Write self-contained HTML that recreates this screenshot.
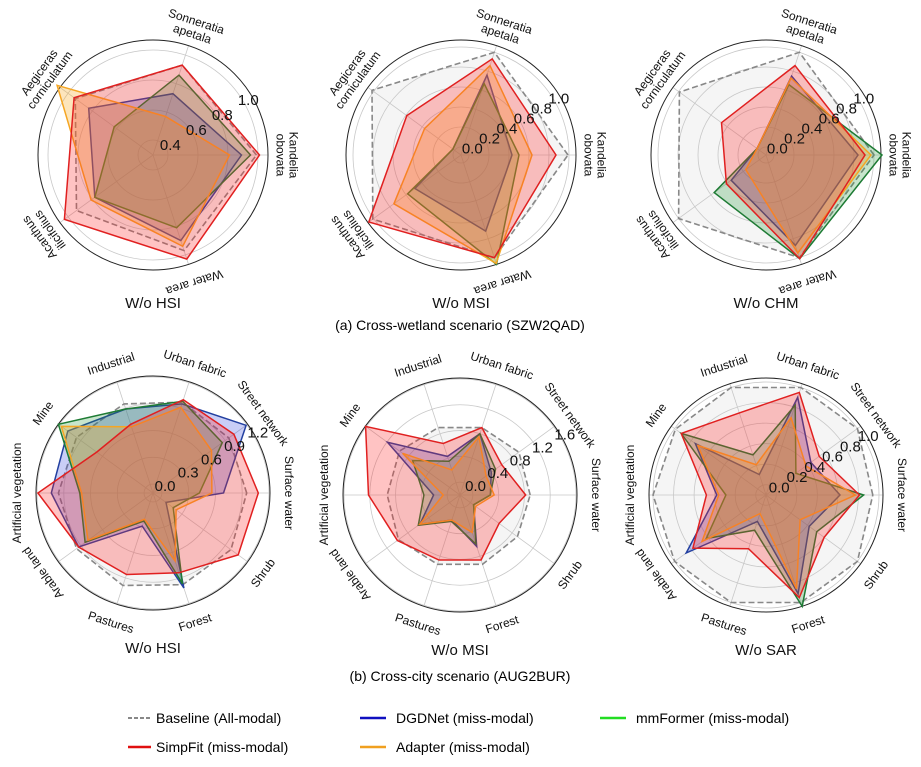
<!DOCTYPE html>
<html><head><meta charset="utf-8">
<style>
html,body{margin:0;padding:0;background:#fff;}
svg{display:block;font-family:"Liberation Sans",Arial,sans-serif;}
</style></head>
<body>
<svg id="fig" width="921" height="767" viewBox="0 0 921 767" xmlns="http://www.w3.org/2000/svg">
<g id="charts"></g>
<text x="460" y="330" font-size="14" text-anchor="middle">(a) Cross-wetland scenario (SZW2QAD)</text>
<text x="460" y="681" font-size="14" text-anchor="middle">(b) Cross-city scenario (AUG2BUR)</text>
<g font-size="14">
 <g><line x1="128" y1="718" x2="151" y2="718" stroke="#888" stroke-width="2" stroke-dasharray="4,2"/><text x="156" y="723">Baseline (All-modal)</text></g>
 <g><line x1="360" y1="718" x2="386" y2="718" stroke="#1010c0" stroke-width="2.5"/><text x="396" y="723">DGDNet (miss-modal)</text></g>
 <g><line x1="600" y1="718" x2="626" y2="718" stroke="#22dd22" stroke-width="2.5"/><text x="636" y="723">mmFormer (miss-modal)</text></g>
 <g><line x1="128" y1="747" x2="151" y2="747" stroke="#e01010" stroke-width="2.5"/><text x="156" y="752">SimpFit (miss-modal)</text></g>
 <g><line x1="360" y1="747" x2="386" y2="747" stroke="#f0a020" stroke-width="2.5"/><text x="396" y="752">Adapter (miss-modal)</text></g>
</g>
</svg>
<script>
// ---- categories ----
const wetCats = ["Kandelia\nobovata","Sonneratia\napetala","Aegiceras\ncorniculatum","Acanthus\nilicifolius","Water area"];
const cityCats = ["Surface water","Street network","Urban fabric","Industrial","Mine","Artificial vegetation","Arable land","Pastures","Forest","Shrub"];
// ---- tick labels ----
const ticks1 = [0.4,0.6,0.8,1.0];
const ticks2 = [0.0,0.2,0.4,0.6,0.8,1.0];
const ticks4 = [0.0,0.3,0.6,0.9,1.2];
const ticks5 = [0.0,0.4,0.8,1.2,1.6];
const ticks6 = [0.0,0.2,0.4,0.6,0.8,1.0];
// ---- chart 1: W/o HSI (wetland) ----
const c1Baseline = [0.99,0.93,0.94,0.93,0.97];
const c1DGDNet   = [0.89,0.73,0.83,0.78,0.90];
const c1mmFormer = [0.95,0.86,0.62,0.78,0.81];
const c1Adapter  = [0.81,0.57,1.09,0.81,0.94];
const c1SimpFit  = [1.01,0.93,0.95,1.03,1.03];
// ---- chart 2: W/o MSI (wetland) ----
const c2Baseline = [0.99,1.00,1.02,1.01,1.00];
const c2DGDNet   = [0.43,0.76,0.02,0.49,0.72];
const c2mmFormer = [0.50,0.67,0.02,0.58,1.07];
const c2Adapter  = [0.63,0.86,0.37,0.75,1.06];
const c2SimpFit  = [0.87,0.93,0.59,1.06,1.00];
// ---- chart 3: W/o CHM (wetland) ----
const c3Baseline = [1.00,1.00,0.99,1.00,1.00];
const c3DGDNet   = [0.84,0.75,0.03,0.35,0.87];
const c3mmFormer = [1.08,0.66,0.03,0.56,1.01];
const c3Adapter  = [0.97,0.73,0.03,0.17,0.95];
const c3SimpFit  = [0.91,0.86,0.47,0.41,1.01];
// ---- chart 4: W/o HSI (city) ----
const c4Baseline = [0.95,0.95,0.97,0.95,0.96,0.96,0.96,0.99,0.98,0.98];
const c4DGDNet   = [0.69,1.19,0.95,0.89,1.08,1.04,0.93,0.29,1.02,0.08];
const c4mmFormer = [0.42,0.86,0.98,0.89,1.21,0.72,0.84,0.23,0.97,0.18];
const c4Adapter  = [0.56,0.71,0.91,0.68,1.17,0.70,0.80,0.21,0.70,0.22];
const c4SimpFit  = [1.08,1.02,1.00,0.71,0.68,1.19,0.93,0.86,0.84,1.08];
// ---- chart 5: W/o MSI (city) ----
const c5Baseline = [0.89,0.93,0.90,0.90,0.96,0.93,0.98,0.93,0.93,0.90];
const c5DGDNet   = [0.27,0.40,0.80,0.43,1.19,0.21,0.57,0.21,0.64,0.06];
const c5mmFormer = [0.27,0.48,0.80,0.35,0.71,0.36,0.60,0.23,0.60,0.06];
const c5Adapter  = [0.33,0.30,0.75,0.21,0.90,0.06,0.57,0.21,0.41,0.10];
const c5SimpFit  = [0.82,0.60,0.90,0.64,1.61,1.22,1.00,0.86,0.86,0.55];
// ---- chart 6: W/o SAR (city) ----
const c6Baseline = [0.94,1.00,1.00,1.00,0.99,1.00,1.00,1.00,1.00,1.00];
const c6DGDNet   = [0.62,0.44,0.90,0.11,0.75,0.38,0.86,0.17,0.91,0.42];
const c6mmFormer = [0.85,0.26,0.82,0.31,0.92,0.29,0.62,0.26,1.04,0.51];
const c6Adapter  = [0.77,0.38,0.69,0.21,0.72,0.36,0.67,0.09,0.86,0.31];
const c6SimpFit  = [0.81,0.54,0.95,0.74,0.92,0.48,0.78,0.45,0.95,0.60];

const NS="http://www.w3.org/2000/svg";
function mk(tag,attrs,parent){const e=document.createElementNS(NS,tag);for(const k in attrs)e.setAttribute(k,attrs[k]);parent.appendChild(e);return e;}

const wetRot=[90,18,-54,-126,162];
const cityRot=[90,54,18,-18,-54,-90,-126,18,-18,-54];

const charts=[
 {cx:153,cy:155,cats:wetCats,rot:wetRot,ticks:ticks1,lo:0.3,hi:1.0,rHi:105,outer:115,title:"W/o HSI",name:"wetland-wo-hsi",series:[c1Baseline,c1DGDNet,c1mmFormer,c1Adapter,c1SimpFit],fmt:1},
 {cx:461,cy:155,cats:wetCats,rot:wetRot,ticks:ticks2,lo:-0.08,hi:1.0,rHi:108,outer:115,title:"W/o MSI",name:"wetland-wo-msi",series:[c2Baseline,c2DGDNet,c2mmFormer,c2Adapter,c2SimpFit],fmt:1},
 {cx:766,cy:155,cats:wetCats,rot:wetRot,ticks:ticks2,lo:-0.08,hi:1.0,rHi:108,outer:115,title:"W/o CHM",name:"wetland-wo-chm",series:[c3Baseline,c3DGDNet,c3mmFormer,c3Adapter,c3SimpFit],fmt:1},
 {cx:153,cy:493,cats:cityCats,rot:cityRot,ticks:ticks4,lo:-0.1,hi:1.2,rHi:116,outer:117,title:"W/o HSI",name:"city-wo-hsi",series:[c4Baseline,c4DGDNet,c4mmFormer,c4Adapter,c4SimpFit],fmt:1},
 {cx:460,cy:495,cats:cityCats,rot:cityRot,ticks:ticks5,lo:-0.2,hi:1.6,rHi:116,outer:117,title:"W/o MSI",name:"city-wo-msi",series:[c5Baseline,c5DGDNet,c5mmFormer,c5Adapter,c5SimpFit],fmt:1},
 {cx:766,cy:495,cats:cityCats,rot:cityRot,ticks:ticks6,lo:-0.1,hi:1.0,rHi:113,outer:117,title:"W/o SAR",name:"city-wo-sar",series:[c6Baseline,c6DGDNet,c6mmFormer,c6Adapter,c6SimpFit],fmt:1}
];
const styles=[
 {stroke:"#888",fill:"rgba(200,200,200,0.18)",dash:"6,3",w:1.6,key:"baseline"},
 {stroke:"#2340a0",fill:"rgba(40,60,220,0.25)",dash:"",w:1.5,key:"dgdnet"},
 {stroke:"#1e7b34",fill:"rgba(30,150,50,0.25)",dash:"",w:1.5,key:"mmformer"},
 {stroke:"#f5a623",fill:"rgba(250,170,30,0.3)",dash:"",w:1.5,key:"adapter"},
 {stroke:"#e02020",fill:"rgba(255,40,40,0.28)",dash:"",w:1.5,key:"simpfit"}
];
const root=document.getElementById("charts");
charts.forEach(c=>{
 const g=mk("g",{},root);
 
 
 const rScale=v=>(v-c.lo)/(c.hi-c.lo)*c.rHi;
 const n=c.cats.length;
 const ang=i=>i*2*Math.PI/n;
 const pt=(i,v)=>{const r=rScale(v),a=ang(i);return [c.cx+r*Math.cos(a),c.cy-r*Math.sin(a)];};
 // grid circles
 c.ticks.forEach(t=>{
  const gc=mk("circle",{cx:c.cx,cy:c.cy,r:Math.max(rScale(t),0.5),fill:"none",stroke:"#c8c8c8","stroke-width":0.8},g);
  
  
 });
 // spokes
 for(let i=0;i<n;i++){
  const a=ang(i);
  const sp=mk("line",{x1:c.cx,y1:c.cy,x2:c.cx+c.outer*Math.cos(a),y2:c.cy-c.outer*Math.sin(a),stroke:"#c8c8c8","stroke-width":0.8},g);
  
  
 }
 const oc=mk("circle",{cx:c.cx,cy:c.cy,r:c.outer,fill:"none",stroke:"#222","stroke-width":1},g);
 
 
 // series
 c.series.forEach((s,k)=>{
  const st=styles[k];
  const pts=s.map((v,i)=>pt(i,v).map(x=>x.toFixed(1)).join(",")).join(" ");
  const p=mk("polygon",{points:pts,fill:st.fill,stroke:st.stroke,"stroke-width":st.w,"stroke-linejoin":"miter"},g);
  if(st.dash)p.setAttribute("stroke-dasharray",st.dash);
  
  
 });
 // tick labels
 const ta=30*Math.PI/180;
 c.ticks.forEach(t=>{
  const r=rScale(t)+5;
  const tl=mk("text",{x:c.cx+r*Math.cos(ta),y:c.cy-r*Math.sin(ta)+5,"font-size":15,"text-anchor":"middle",fill:"#111"},g);
  tl.textContent=t.toFixed(1);
  
  
 });
 // category labels
 c.cats.forEach((cat,i)=>{
  const a=ang(i),r=c.outer+19;
  const x=c.cx+r*Math.cos(a),y=c.cy-r*Math.sin(a);
  const lines=cat.split("\n");
  const tx=mk("text",{x:x,y:y,"font-size":12,"text-anchor":"middle",fill:"#111",transform:`rotate(${c.rot[i]} ${x} ${y})`},g);
  lines.forEach((ln,j)=>{
   const ts=mk("tspan",{x:x,y:(y+4+(j-(lines.length-1)/2)*13).toFixed(1)},tx);
   ts.textContent=ln;
  });
  
  
 });
 const ti=mk("text",{x:c.cx,y:c.cy+(c.cats.length===5?153:160),"font-size":15,"text-anchor":"middle",fill:"#111"},g);
 ti.textContent=c.title;
 
 
});
</script>
</body></html>
